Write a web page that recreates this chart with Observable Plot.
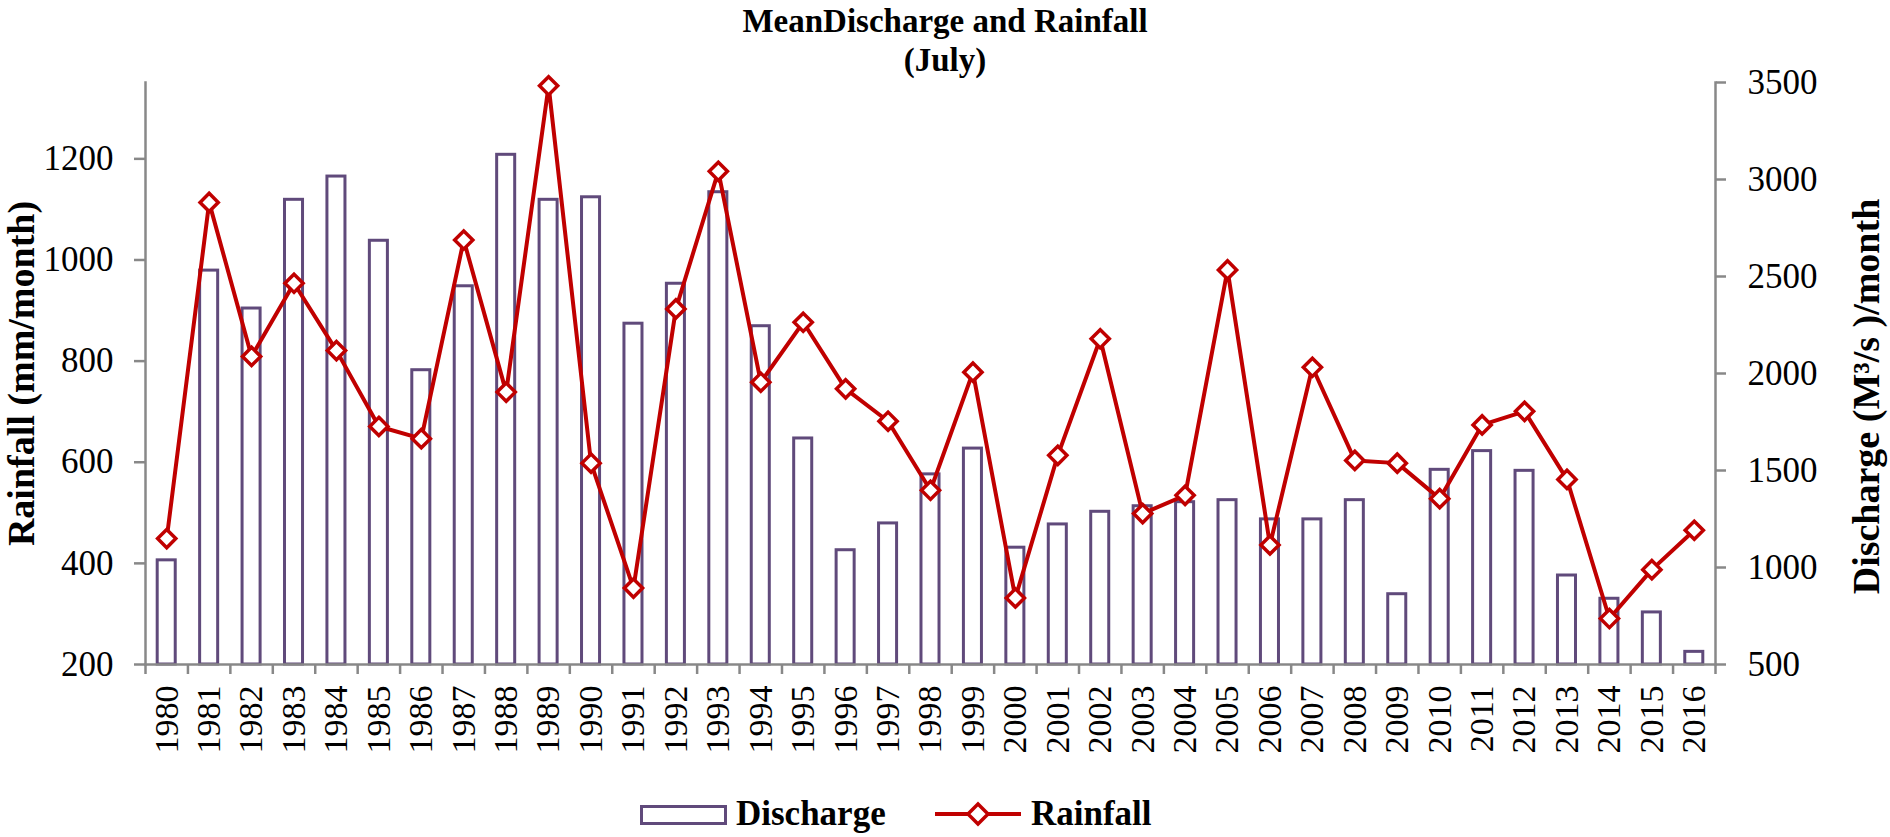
<!DOCTYPE html>
<html>
<head>
<meta charset="utf-8">
<script src="https://cdn.jsdelivr.net/npm/d3@7"></script>
<script src="https://cdn.jsdelivr.net/npm/@observablehq/plot@0.6"></script>
<style>
  body { margin: 0; background: #fff; font-family: "Liberation Serif", "Times New Roman", serif; }
  #wrap { position: relative; width: 1890px; height: 837px; overflow: hidden; background: #fff; }
  #chart { position: absolute; left: 0; top: 0; }
  #chart svg, #chart svg text { font-family: "Liberation Serif", "Times New Roman", serif !important; }
  #title { position: absolute; left: 0; top: 2px; width: 1890px; text-align: center;
           font-weight: bold; font-size: 33px; line-height: 39px; color: #000; }
  .lg { position: absolute; font-weight: bold; font-size: 35px; line-height: 35px; color: #000; white-space: nowrap; }
  #swDis { position: absolute; left: 640px; top: 805px; width: 87px; height: 20px; box-sizing: border-box;
           border: 3px solid #604A7B; background: #fff; }
  #swRain { position: absolute; left: 935px; top: 800px; }
</style>
</head>
<body>
<div id="wrap">
  <div id="chart"></div>
  <div id="title">MeanDischarge and Rainfall<br>(July)</div>
  <div id="swDis"></div>
  <div class="lg" id="lgDis" style="left:736px; top:796px;">Discharge</div>
  <svg id="swRain" width="86" height="28" viewBox="0 0 86 28">
    <line x1="0" y1="14" x2="86" y2="14" stroke="#C00000" stroke-width="4"></line>
    <path d="M43,4 L53,14 L43,24 L33,14 Z" fill="#fff" stroke="#C00000" stroke-width="3.5"></path>
  </svg>
  <div class="lg" id="lgRain" style="left:1031px; top:796px;">Rainfall</div>
</div>
<script>
// ---- data ----
const years = ["1980","1981","1982","1983","1984","1985","1986","1987","1988","1989",
               "1990","1991","1992","1993","1994","1995","1996","1997","1998","1999",
               "2000","2001","2002","2003","2004","2005","2006","2007","2008","2009",
               "2010","2011","2012","2013","2014","2015","2016"];
// bars (read on the left axis)
const discharge = [406, 979, 904, 1119, 1165, 1038, 782, 948, 1208, 1119,
                   1124, 874, 953, 1134, 869, 647, 426, 479, 576, 627,
                   431, 477, 502, 513, 521, 525, 487, 487, 525, 339,
                   585, 622, 583, 376, 330, 303, 225];
// line (read on the right axis)
const rainfall = [1149, 2882, 2088, 2465, 2118, 1727, 1664, 2688, 1904, 3483,
                  1538, 894, 2333, 3042, 1955, 2264, 1921, 1754, 1398, 2007,
                  843, 1578, 2179, 1278, 1372, 2534, 1116, 2032, 1552, 1538,
                  1355, 1735, 1805, 1454, 737, 989, 1192];
const leftTicks = [200, 400, 600, 800, 1000, 1200];
const rightTicks = [500, 1000, 1500, 2000, 2500, 3000, 3500];
const leftDomain = [200, 1351];
const rightDomain = [500, 3500];
const leftTitle = "Rainfall (mm/month)";
const rightTitle = "Discharge (M\u00B3/s )/month";

// ---- build ----
const data = years.map((y, i) => ({year: y, discharge: discharge[i], rainfall: rainfall[i]}));
const toLeft = d3.scaleLinear(rightDomain, leftDomain);

const W = 1890, H = 790, mL = 145, mR = 175, mT = 82, mB = 126;
const bw = (W - mL - mR) / years.length;
const axisGray = "#888888";
const font = "Liberation Serif, Times New Roman, serif";

const chart = Plot.plot({
  width: W, height: H,
  marginLeft: mL, marginRight: mR, marginTop: mT, marginBottom: mB,
  style: {fontFamily: font, background: "transparent", color: "#000", overflow: "visible"},
  x: {type: "band", domain: years, padding: 0, round: false},
  y: {domain: leftDomain},
  marks: [
    Plot.barY(data, {x: "year", y1: leftDomain[0], y2: "discharge", insetLeft: 12.2, insetRight: 12.2,
                     fill: "white", stroke: "#604A7B", strokeWidth: 3}),
    Plot.frame({anchor: "left", stroke: axisGray, strokeWidth: 2.5}),
    Plot.frame({anchor: "right", stroke: axisGray, strokeWidth: 2.5}),
    Plot.frame({anchor: "bottom", stroke: axisGray, strokeWidth: 2.5}),
    Plot.axisY(leftTicks, {anchor: "left", tickSize: 11, tickPadding: 21, fontSize: 35, fontFamily: font,
                           tickFormat: v => String(v),
                           stroke: axisGray, strokeWidth: 2.5, fill: "#000", label: null}),
    Plot.axisY(rightTicks.map(toLeft), {anchor: "right", tickSize: 10, tickPadding: 22, fontSize: 35, fontFamily: font,
                           tickFormat: v => String(Math.round(toLeft.invert(v))),
                           stroke: axisGray, strokeWidth: 2.5, fill: "#000", label: null}),
    Plot.axisX({tickSize: 10, dx: -bw / 2, tickFormat: () => "", stroke: axisGray, strokeWidth: 2.5, label: null}),
    Plot.axisX([years[years.length - 1]], {tickSize: 10, dx: bw / 2, tickFormat: () => "", stroke: axisGray, strokeWidth: 2.5, label: null}),
    Plot.axisX({tickSize: 0, tickPadding: 21, tickRotate: -90, fontSize: 34, fontFamily: font, fill: "#000", label: null}),
    Plot.line(data, {x: "year", y: d => toLeft(d.rainfall), stroke: "#C00000", strokeWidth: 4}),
    Plot.dot(data, {x: "year", y: d => toLeft(d.rainfall), symbol: "diamond2", r: 8.2,
                    fill: "white", stroke: "#C00000", strokeWidth: 3.5}),
    Plot.text([leftTitle], {frameAnchor: "left", dx: -124, rotate: -90, fontSize: 38, fontWeight: "bold",
                            fontFamily: font, fill: "#000", textAnchor: "middle"}),
    Plot.text([rightTitle], {frameAnchor: "right", dx: 151, dy: 23, rotate: -90, fontSize: 38, fontWeight: "bold",
                             fontFamily: font, fill: "#000", textAnchor: "middle"})
  ]
});
document.getElementById("chart").appendChild(chart);
</script>
</body>
</html>
